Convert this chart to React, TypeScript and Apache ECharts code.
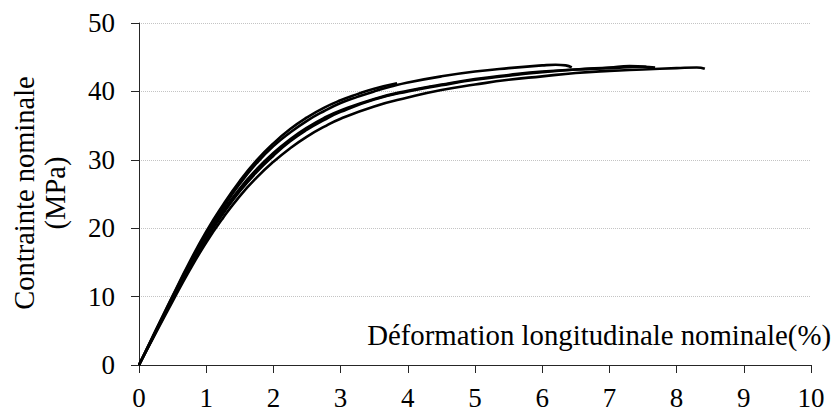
import React, { useEffect, useRef } from "react";
import * as echarts from "echarts";

const xTicks = [0, 1, 2, 3, 4, 5, 6, 7, 8, 9, 10];
const yTicks = [0, 10, 20, 30, 40, 50];

const curveA: [number, number][] = [
  [0, 0], [0.25, 5], [0.5, 10], [0.75, 14.8], [1, 19.2], [1.25, 23], [1.5, 26.5], [1.75, 29.5],
  [2, 32], [2.25, 34], [2.5, 35.7], [2.75, 37.1], [3, 38.3], [3.25, 39.2], [3.5, 40], [3.75, 40.7],
  [4, 41.3], [4.5, 42.2], [5, 42.9], [5.5, 43.4], [6, 43.8], [6.2, 43.9], [6.35, 43.8], [6.44, 43.5],
];
const curveB: [number, number][] = [
  [0, 0], [0.25, 5.1], [0.5, 10.1], [0.75, 15], [1, 19.5], [1.25, 23.4], [1.5, 26.9], [1.75, 29.9],
  [2, 32.4], [2.25, 34.5], [2.5, 36.2], [2.75, 37.6], [3, 38.7], [3.25, 39.6], [3.5, 40.4], [3.84, 41.2],
];
const curveC: [number, number][] = [
  [0, 0], [0.25, 4.9], [0.5, 9.8], [0.75, 14.5], [1, 18.7], [1.25, 22.5], [1.5, 25.8], [1.75, 28.6],
  [2, 31], [2.25, 33], [2.5, 34.7], [2.75, 36.1], [3, 37.2], [3.5, 38.9], [4, 40.1], [4.5, 41],
  [5, 41.8], [5.5, 42.4], [6, 42.9], [6.5, 43.2], [7, 43.4], [7.5, 43.6], [7.68, 43.5],
];
const curveE: [number, number][] = [
  [0, 0], [0.25, 4.8], [0.5, 9.6], [0.75, 14.2], [1, 18.4], [1.25, 22.1], [1.5, 25.4], [1.75, 28.2],
  [2, 30.6], [2.25, 32.7], [2.5, 34.4], [2.75, 35.8], [3, 37], [3.5, 38.8], [4, 40], [4.5, 40.9],
  [5, 41.7], [5.5, 42.3], [6, 42.8], [6.5, 43.2], [7, 43.5], [7.3, 43.7], [7.55, 43.6],
];
const curveD: [number, number][] = [
  [0, 0], [0.25, 4.7], [0.5, 9.3], [0.75, 13.8], [1, 17.9], [1.25, 21.5], [1.5, 24.7], [1.75, 27.4],
  [2, 29.7], [2.25, 31.7], [2.5, 33.4], [2.75, 34.8], [3, 36], [3.5, 37.8], [4, 39.1], [4.5, 40.2],
  [5, 41], [5.5, 41.7], [6, 42.2], [6.5, 42.7], [7, 43], [7.5, 43.2], [8, 43.4], [8.3, 43.5], [8.42, 43.3],
];

const curves = [curveA, curveB, curveC, curveE, curveD];

const xName = "Déformation longitudinale nominale(%)";
const yName = "Contrainte nominale\n(MPa)";

const FONT = "'Liberation Serif', serif";

export default function App() {
  const ref = useRef<HTMLDivElement>(null);
  useEffect(() => {
    document.body.style.margin = "0";
    const chart = echarts.init(ref.current!, null, { renderer: "svg" });
    chart.setOption({
      animation: false,
      backgroundColor: "#ffffff",
      grid: { left: 139, right: 24, top: 23, bottom: 50 },
      xAxis: {
        type: "value",
        min: xTicks[0],
        max: xTicks[xTicks.length - 1],
        interval: 1,
        axisLine: { show: true, lineStyle: { color: "#262626", width: 1 } },
        axisTick: { show: true, length: 8, lineStyle: { color: "#262626" } },
        axisLabel: { color: "#000", fontFamily: FONT, fontSize: 27, margin: 19 },
        splitLine: { show: false },
      },
      yAxis: {
        type: "value",
        min: yTicks[0],
        max: yTicks[yTicks.length - 1],
        interval: 10,
        axisLine: { show: true, lineStyle: { color: "#262626", width: 1 } },
        axisTick: { show: true, length: 8, lineStyle: { color: "#262626" } },
        axisLabel: { color: "#000", fontFamily: FONT, fontSize: 27, margin: 24 },
        splitLine: { show: true, lineStyle: { color: "#c4c4c4", type: "dotted", width: 1 } },
      },
      graphic: [
        {
          type: "text",
          x: 40,
          y: 193,
          rotation: Math.PI / 2,
          style: {
            text: yName,
            font: `28.5px ${FONT}`,
            fill: "#000",
            align: "center",
            verticalAlign: "middle",
            lineHeight: 31,
          },
        },
        {
          type: "text",
          x: 831,
          y: 335,
          style: {
            text: xName,
            font: `28.8px ${FONT}`,
            fill: "#000",
            align: "right",
            verticalAlign: "middle",
          },
        },
      ],
      series: curves.map((c) => ({
        type: "line",
        data: c,
        smooth: true,
        showSymbol: false,
        lineStyle: { color: "#000", width: 2.6 },
      })),
    });
    return () => chart.dispose();
  }, []);
  return <div ref={ref} style={{ width: 835, height: 415 }} />;
}
